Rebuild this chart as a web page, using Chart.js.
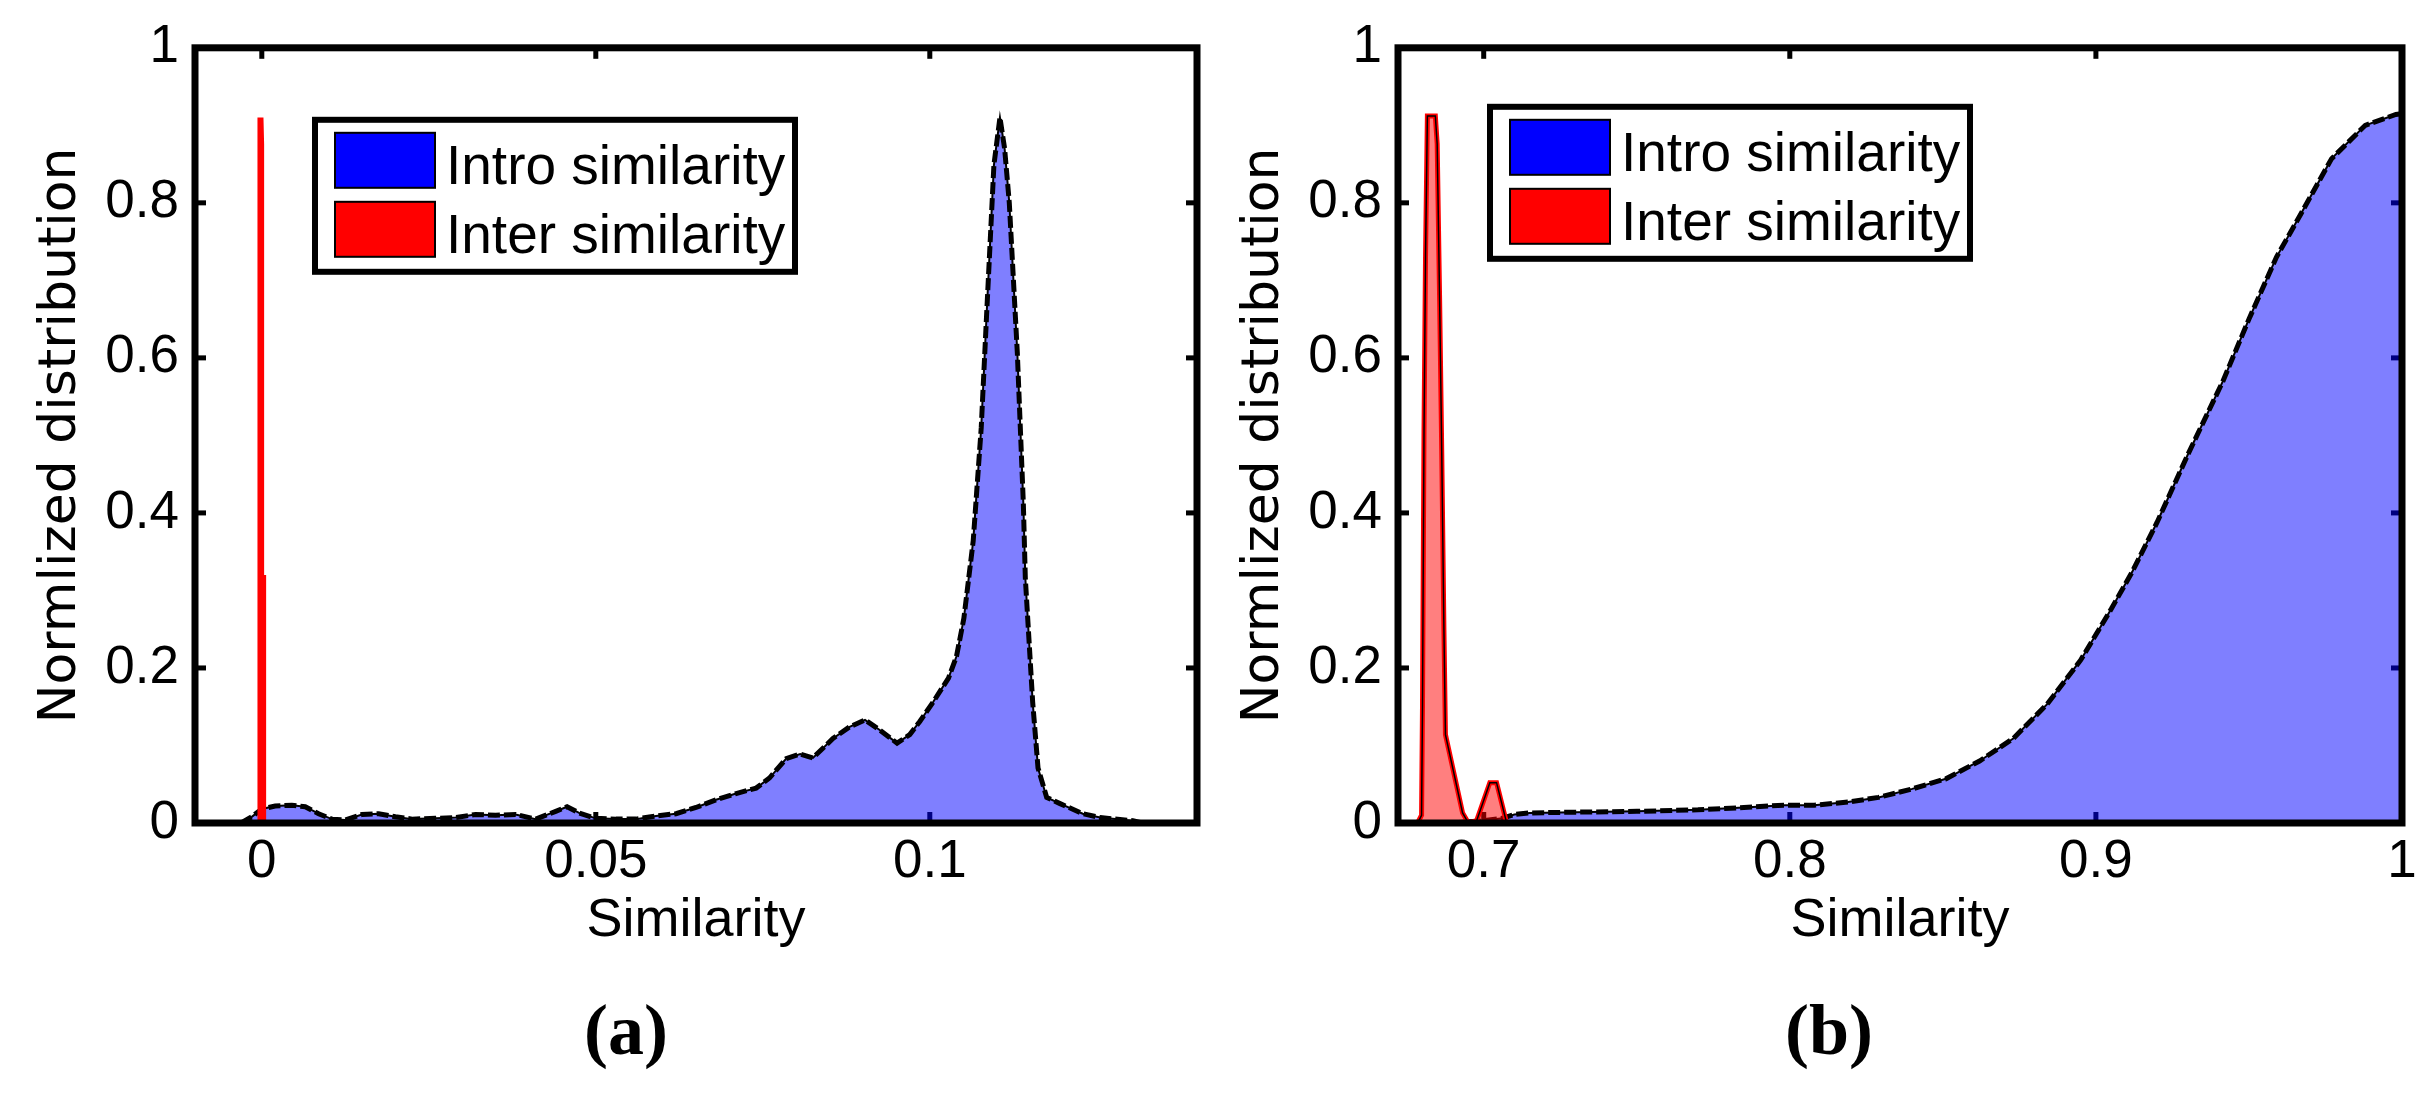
<!DOCTYPE html>
<html>
<head>
<meta charset="utf-8">
<title>Similarity distributions</title>
<script src="https://cdn.jsdelivr.net/npm/chart.js@4.4.1/dist/chart.umd.min.js"></script>
<style>
    html, body { margin: 0; padding: 0; background: #fff; }
    #page { position: relative; width: 2433px; height: 1099px; overflow: hidden; background: #fff; }
    canvas { position: absolute; top: 0; }
    #chart-a { left: 0; }
    #chart-b { left: 1203px; }
    .caption {
        position: absolute; top: 994px; width: 200px; text-align: center;
        font: bold 72px "Liberation Serif", "DejaVu Serif", serif; line-height: 72px; color: #000;
    }
</style>
</head>
<body>
<div id="page">
    <canvas id="chart-a" width="1216" height="960"></canvas>
    <canvas id="chart-b" width="1230" height="960"></canvas>
    <div class="caption" style="left:526px">(a)</div>
    <div class="caption" style="left:1729px">(b)</div>
</div>
<script>
const seriesLabels = ['Intro similarity', 'Inter similarity'];
const yTicks = [0, 0.2, 0.4, 0.6, 0.8, 1];
const xTicksA = [0, 0.05, 0.1];
const xTicksB = [0.7, 0.8, 0.9, 1];

// (a) intro similarity
const introAx = [-0.0031, -0.0015, 0.0000, 0.0020, 0.0045, 0.0065, 0.0085, 0.0105, 0.0125, 0.0150,
    0.0175, 0.0200, 0.0225, 0.0260, 0.0290, 0.0320, 0.0350, 0.0380, 0.0410, 0.0440,
    0.0457, 0.0475, 0.0500, 0.0530, 0.0560, 0.0590, 0.0620, 0.0650, 0.0680, 0.0710,
    0.0740, 0.0760, 0.0785, 0.0806, 0.0825, 0.0855, 0.0880, 0.0903, 0.0925, 0.0951,
    0.0970, 0.0985, 0.1005, 0.1028, 0.1040, 0.1051, 0.1065, 0.1077, 0.1085, 0.1096,
    0.1105, 0.1112, 0.1119, 0.1131, 0.1140, 0.1143, 0.1154, 0.1162, 0.1175, 0.1195,
    0.1229, 0.1255, 0.1304, 0.1318];
const introAy = [0.000, 0.008, 0.018, 0.022, 0.023, 0.021, 0.012, 0.005, 0.004, 0.011,
    0.012, 0.008, 0.005, 0.006, 0.007, 0.011, 0.010, 0.011, 0.005, 0.015,
    0.021, 0.013, 0.006, 0.005, 0.005, 0.009, 0.012, 0.020, 0.030, 0.038,
    0.045, 0.058, 0.083, 0.089, 0.084, 0.109, 0.124, 0.133, 0.120, 0.103,
    0.114, 0.131, 0.156, 0.187, 0.215, 0.264, 0.364, 0.510, 0.655, 0.849,
    0.910, 0.870, 0.800, 0.607, 0.413, 0.316, 0.156, 0.071, 0.033, 0.025,
    0.012, 0.007, 0.003, 0.000];

// (a) inter similarity
const interAx = [-0.0002, -0.0002, -0.0001, -0.0001, 0.0002, 0.0002];
const interAy = [0.000, 0.910, 0.876, 0.316, 0.316, 0.000];

// (b) intro similarity
const introBx = [0.690, 0.700, 0.706, 0.710, 0.715, 0.730, 0.750, 0.770, 0.785, 0.798,
    0.808, 0.819, 0.829, 0.840, 0.851, 0.862, 0.873, 0.884, 0.895, 0.905,
    0.912, 0.920, 0.930, 0.9415, 0.950, 0.959, 0.967, 0.977, 0.988, 0.998, 1.000];
const introBy = [0.000, 0.003, 0.006, 0.011, 0.013, 0.014, 0.015, 0.017, 0.020, 0.023,
    0.023, 0.027, 0.033, 0.044, 0.057, 0.080, 0.109, 0.153, 0.210, 0.276,
    0.325, 0.388, 0.475, 0.570, 0.650, 0.730, 0.786, 0.857, 0.900, 0.914, 0.915];

// (b) inter similarity
const interBx = [0.6784, 0.6797, 0.6800, 0.6805, 0.6810, 0.6816, 0.6842, 0.6848, 0.6856, 0.6863,
    0.6870, 0.6875, 0.6931, 0.6950, 0.6977, 0.7020, 0.7042, 0.7075];
const interBy = [0.000, 0.010, 0.150, 0.507, 0.733, 0.912, 0.912, 0.876, 0.674, 0.475,
    0.250, 0.114, 0.013, 0.000, 0.003, 0.052, 0.052, 0.000];

const toPoints = (xs, ys) => xs.map((x, i) => ({ x: x, y: ys[i] }));

const FONT = '"Liberation Sans", Arial, sans-serif';
const TITLE_FONT = '"DejaVu Sans", "Liberation Sans", sans-serif';

// box, inward ticks on all four sides and the boxed legend
const matlabFrame = {
    id: 'matlabFrame',
    beforeDatasetsDraw(chart) {
        const { ctx, chartArea: a, scales: { x, y } } = chart;
        const len = 11, w = 5;
        ctx.save();
        ctx.fillStyle = '#000';
        x.ticks.forEach(t => {
            const px = x.getPixelForValue(t.value);
            ctx.fillRect(px - w / 2, a.bottom - len, w, len);
            ctx.fillRect(px - w / 2, a.top, w, len);
        });
        y.ticks.forEach(t => {
            const py = y.getPixelForValue(t.value);
            ctx.fillRect(a.left, py - w / 2, len, w);
            ctx.fillRect(a.right - len, py - w / 2, len, w);
        });
        ctx.restore();
    },
    afterDatasetsDraw(chart, args, opts) {
        const { ctx, chartArea: a } = chart;
        ctx.save();
        ctx.strokeStyle = '#000';
        ctx.lineWidth = 7;
        ctx.strokeRect(a.left, a.top, a.right - a.left, a.bottom - a.top);

        const lx = a.left + opts.dx, ly = a.top + opts.dy;
        ctx.fillStyle = '#fff';
        ctx.fillRect(lx, ly, 480, 152);
        ctx.lineWidth = 6;
        ctx.strokeRect(lx, ly, 480, 152);

        const items = chart.data.datasets.filter(d => d.legendColor);
        items.forEach((d, i) => {
            const sy = ly + 13 + i * 69;
            ctx.fillStyle = d.legendColor;
            ctx.fillRect(lx + 20, sy, 100, 55);
            ctx.lineWidth = 2;
            ctx.strokeRect(lx + 20, sy, 100, 55);
            ctx.fillStyle = '#000';
            ctx.font = '55px ' + FONT;
            ctx.textBaseline = 'alphabetic';
            ctx.textAlign = 'left';
            ctx.fillText(d.label, lx + 131, ly + 64 + i * 69);
        });
        ctx.restore();
    }
};

const makeChart = (canvasId, cfg) => {
    const canvas = document.getElementById(canvasId);
    if (!canvas) return;
    const datasets = [{
        label: seriesLabels[0],
        legendColor: '#0000ff',
        data: toPoints(cfg.introX, cfg.introY),
        backgroundColor: 'rgba(0, 0, 255, 0.5)',
        borderColor: '#000',
        borderWidth: 2,
        fill: 'origin',
        order: 4
    }, {
        data: toPoints(cfg.introX, cfg.introY),
        borderColor: '#000',
        borderWidth: 5,
        borderDash: [12, 4],
        fill: false,
        order: 3
    }, {
        label: seriesLabels[1],
        legendColor: '#ff0000',
        data: toPoints(cfg.interX, cfg.interY),
        backgroundColor: 'rgba(255, 0, 0, 0.5)',
        borderColor: '#ff0000',
        borderWidth: cfg.interWidth,
        fill: 'origin',
        order: 2
    }];
    if (cfg.interEdge) {
        datasets.push({
            data: toPoints(cfg.interX, cfg.interY),
            borderColor: '#000',
            borderWidth: 1.5,
            fill: false,
            order: 1
        });
    }

    new Chart(canvas, {
        type: 'line',
        data: { datasets: datasets },
        plugins: [matlabFrame],
        options: {
            responsive: false,
            animation: false,
            devicePixelRatio: 1,
            elements: { point: { radius: 0 }, line: { tension: 0 } },
            layout: { padding: { top: 34, right: cfg.padRight, bottom: 0, left: 0 } },
            plugins: {
                legend: { display: false },
                tooltip: { enabled: false },
                matlabFrame: { dx: cfg.legendDx, dy: cfg.legendDy }
            },
            scales: {
                x: {
                    type: 'linear',
                    min: cfg.xMin,
                    max: cfg.xMax,
                    afterBuildTicks: scale => { scale.ticks = cfg.xTicks.map(v => ({ value: v })); },
                    afterFit: scale => { scale.height = 137; },
                    grid: { display: false, drawTicks: false },
                    border: { display: false },
                    ticks: {
                        color: '#000',
                        padding: 8,
                        maxRotation: 0,
                        autoSkip: false,
                        font: { family: FONT, size: 53 },
                        callback: v => String(v)
                    },
                    title: {
                        display: true,
                        text: 'Similarity',
                        color: '#000',
                        padding: { top: 0, bottom: 6 },
                        font: { family: FONT, size: 54 }
                    }
                },
                y: {
                    type: 'linear',
                    min: 0,
                    max: 1,
                    afterBuildTicks: scale => { scale.ticks = yTicks.map(v => ({ value: v })); },
                    afterFit: scale => { scale.width = 195; },
                    grid: { display: false, drawTicks: false },
                    border: { display: false },
                    ticks: {
                        color: '#000',
                        padding: 16,
                        font: { family: FONT, size: 53 },
                        callback: v => String(v)
                    },
                    title: {
                        display: true,
                        text: 'Normlized distribution',
                        color: '#000',
                        padding: { top: 30, bottom: 0 },
                        font: { family: TITLE_FONT, size: 52 }
                    }
                }
            }
        }
    });
};

document.addEventListener('DOMContentLoaded', () => {
    makeChart('chart-a', {
        introX: introAx, introY: introAy,
        interX: interAx, interY: interAy,
        interWidth: 6, interEdge: false,
        xMin: -0.01, xMax: 0.14, xTicks: xTicksA,
        padRight: 19, legendDx: 120, legendDy: 72
    });
    makeChart('chart-b', {
        introX: introBx, introY: introBy,
        interX: interBx, interY: interBy,
        interWidth: 5, interEdge: true,
        xMin: 0.672, xMax: 1, xTicks: xTicksB,
        padRight: 31, legendDx: 92, legendDy: 59
    });
});
</script>
</body>
</html>
